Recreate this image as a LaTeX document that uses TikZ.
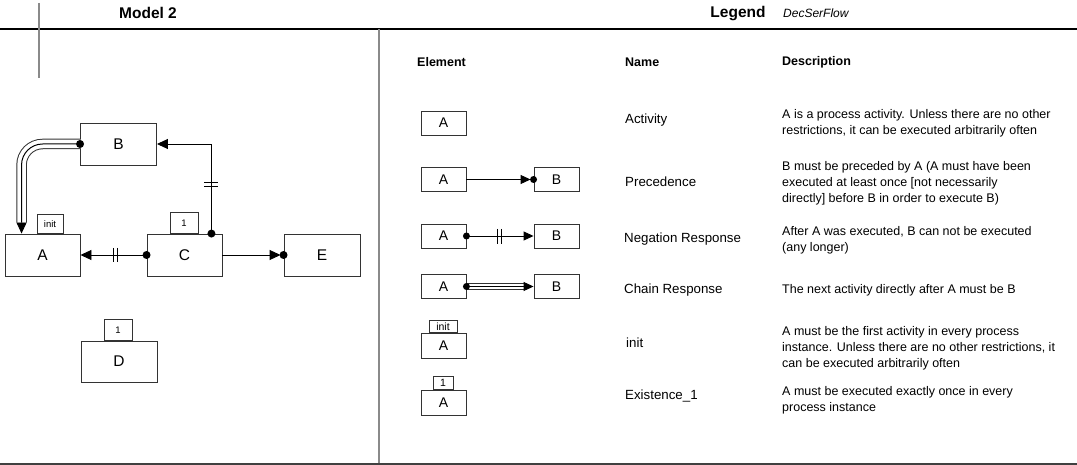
\documentclass[tikz,border=0pt]{standalone}
\usepackage{fontspec}
\setmainfont{Liberation Sans}
\usetikzlibrary{arrows.meta,calc}
\definecolor{divgray}{HTML}{8A8A8A}
\definecolor{boxline}{HTML}{333333}
\begin{document}
\begin{tikzpicture}[x=1pt,y=-1pt,
  act/.style={draw=boxline,line width=0.9pt,minimum width=76pt,minimum height=42pt,inner sep=0pt,font=\fontsize{15.5}{18}\selectfont},
  lact/.style={draw=boxline,line width=0.9pt,minimum width=45pt,minimum height=24pt,inner sep=0pt,font=\fontsize{14}{16}\selectfont},
  tagbox/.style={draw=boxline,line width=0.9pt,inner sep=0pt,anchor=south,font=\fontsize{9.5}{10}\selectfont},
  conn/.style={line width=0.9pt,draw=black},
  tipM/.style={-{Triangle[length=11pt,width=10pt]}},
  tipL/.style={-{Triangle[length=10pt,width=9pt]}},
  namet/.style={anchor=west,inner sep=0pt,font=\fontsize{13.3}{16}\selectfont},
  desct/.style={anchor=west,inner sep=0pt,align=left,font=\fontsize{12.5}{16}\selectfont},
  headt/.style={anchor=west,inner sep=0pt,font=\bfseries\fontsize{12.5}{14}\selectfont},
  dotM/.style={circle,fill=black,inner sep=0pt,minimum size=8pt},
  dotL/.style={circle,fill=black,inner sep=0pt,minimum size=7pt},
]
\useasboundingbox (0,0) rectangle (1077,465);

% frame lines
\draw[line width=1.5pt,black] (0,29) -- (1077,29);
\draw[line width=1.5pt,divgray] (39,3) -- (39,78);
\draw[line width=2pt,divgray] (379,29) -- (379,463);
\draw[line width=2pt,black!75] (0,463.5) -- (1077,463.5);

% titles
\node[inner sep=0pt,font=\bfseries\fontsize{15.5}{17}\selectfont] (t1) at (148,13) {Model 2};
\node[inner sep=0pt,font=\bfseries\fontsize{15.5}{17}\selectfont] (t2) at (738,14) {Legend};
\node[anchor=west,inner sep=0pt,font=\itshape\fontsize{12}{14}\selectfont] (t3) at (783,13) {DecSerFlow};

% headers
\node[headt] (h1) at (417,62) {Element};
\node[headt] (h2) at (625,62) {Name};
\node[headt] (h3) at (782,62) {Description};

% ---------- model ----------
\node[act,minimum width=75pt] (A) at (42.5,255) {A};
\node[act] (B) at (118.5,144) {B};
\node[act,minimum width=75pt] (C) at (184.5,255) {C};
\node[act] (E) at (322,255) {E};
\node[act,minimum height=41pt] (D) at (119,361.5) {D};
\node[tagbox,minimum width=26pt,minimum height=19pt] (Atag) at (50,234) {init};
\node[tagbox,minimum width=28pt,minimum height=21pt] (Ctag) at (184,234) {1};
\node[tagbox,minimum width=28pt,minimum height=21pt] (Dtag) at (118,341) {1};

% C -> A negation response
\draw[conn,tipM] (C.west) -- (A.east);
\node[dotM] (dCA) at (C.west) {};
\draw[conn] (113,248) -- (113,262) (117,248) -- (117,262);

% C -> E precedence
\draw[conn,tipM,shorten >=3pt] (C.east) -- (E.west);
\node[dotM] (dCE) at (E.west) {};

% C -> B negation response
\coordinate (Cs) at ($(C.north east)+(-11,0)$);
\draw[conn,tipM] (Cs) |- (B.east);
\node[dotM] (dCB) at (Cs) {};
\draw[conn] (204,182) -- (218,182) (204,186) -- (218,186);

% B -> A chain response
\coordinate (At) at ($(A.north west)+(17,0)$);
\coordinate (Atb) at ($(At)+(0,-11)$);
\draw[line width=10.5pt,black!80,rounded corners=21pt] (B.west) -| (Atb);
\draw[line width=8.5pt,white,rounded corners=21pt,shorten <=-1pt,shorten >=-0.5pt] (B.west) -| (Atb);
\draw[line width=1pt,black,rounded corners=21pt] (B.west) -| (Atb);
\draw[conn,tipM] (Atb) -- (At);
\node[dotM] (dBA) at (B.west) {};

% ---------- legend ----------
\node[lact] (L1) at (443.5,123) {A};

\node[lact] (L2a) at (443.5,179.5) {A};
\node[lact] (L2b) at (556.5,179.5) {B};
\draw[conn,tipL,shorten >=3pt] (L2a.east) -- (L2b.west);
\node[dotL] (d2) at (L2b.west) {};

\node[lact] (L3a) at (443.5,236) {A};
\node[lact] (L3b) at (556.5,236) {B};
\draw[conn,tipL] (L3a.east) -- (L3b.west);
\node[dotL] (d3) at (L3a.east) {};
\draw[conn] (497,229) -- (497,244) (501,229) -- (501,244);

\node[lact] (L4a) at (443.5,286.5) {A};
\node[lact] (L4b) at (556.5,286.5) {B};
\coordinate (L4e) at ($(L4b.west)+(-10,0)$);
\draw[line width=7pt,black!80] (L4a.east) -- (L4e);
\draw[line width=5pt,white,shorten <=-0.5pt,shorten >=-0.5pt] (L4a.east) -- (L4e);
\draw[line width=1pt,black] (L4a.east) -- (L4e);
\draw[conn,tipL] (L4e) -- (L4b.west);
\node[dotL] (d4) at (L4a.east) {};

\node[lact,minimum height=25pt] (L5) at (443.5,345.5) {A};
\node[tagbox,minimum width=28pt,minimum height=12pt,font=\fontsize{10.5}{11}\selectfont] (L5t) at (443,333) {init};

\node[lact,minimum height=25pt] (L6) at (443.5,402.5) {A};
\node[tagbox,minimum width=20pt,minimum height=13pt,font=\fontsize{10.5}{11}\selectfont] (L6t) at (443,390) {1};

% names
\node[namet] (n1) at (625,120) {Activity};
\node[namet] (n2) at (625,182) {Precedence};
\node[namet] (n3) at (624,239) {Negation Response};
\node[namet] (n4) at (624,290) {Chain Response};
\node[namet] (n5) at (626,343) {init};
\node[namet] (n6) at (625,396) {Existence\_1};

% descriptions
\node[desct] (x1) at (782,123) {A is a process activity. Unless there are no other\\restrictions, it can be executed arbitrarily often};
\node[desct] (x2) at (782,183) {B must be preceded by A (A must have been\\executed at least once [not necessarily\\directly] before B in order to execute B)};
\node[desct] (x3) at (782,240) {After A was executed, B can not be executed\\(any longer)};
\node[desct] (x4) at (782,290) {The next activity directly after A must be B};
\node[desct] (x5) at (782,348) {A must be the first activity in every process\\instance. Unless there are no other restrictions, it\\can be executed arbitrarily often};
\node[desct] (x6) at (782,400) {A must be executed exactly once in every\\process instance};
\end{tikzpicture}
\end{document}
